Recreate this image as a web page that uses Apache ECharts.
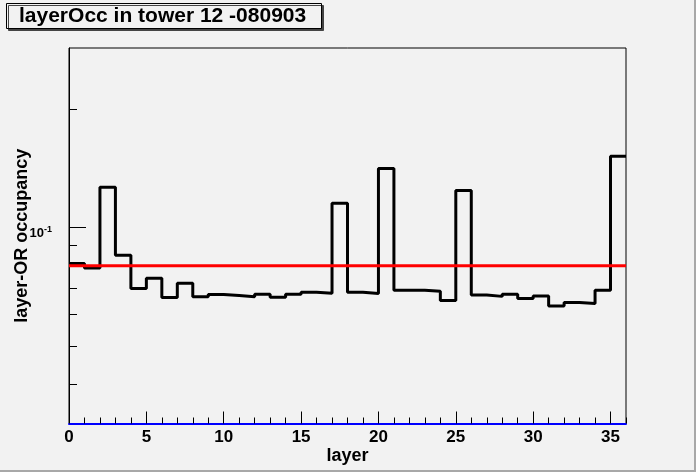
<!DOCTYPE html>
<html>
<head>
<meta charset="utf-8">
<script src="https://cdn.jsdelivr.net/npm/echarts@6/dist/echarts.min.js"></script>
<style>
  html, body { margin: 0; padding: 0; background: #f2f2f2; }
  #chart { width: 696px; height: 472px; }
</style>
</head>
<body>
<div id="chart"></div>
<script>
// occupancy per layer (bins 0..35)
var layerOcc = [
    0.0810, 0.0789, 0.1267, 0.0850, 0.0700, 0.0743, 0.0664, 0.0721, 0.0667, 0.0675,
    0.0671, 0.0667, 0.0676, 0.0665, 0.0676, 0.0684, 0.0680, 0.1153, 0.0684, 0.0679,
    0.1414, 0.0692, 0.0692, 0.0688, 0.0652, 0.1243, 0.0673, 0.0668, 0.0676, 0.0660,
    0.0669, 0.0631, 0.0644, 0.0641, 0.0692, 0.1520
];
var refLevel = 0.08;
var xRange = [0, 36];
var yRange = [0.0317, 0.2866];
var xMajorTicks = [0, 5, 10, 15, 20, 25, 30, 35];
var xMinorTicks = [1, 2, 3, 4, 6, 7, 8, 9, 11, 12, 13, 14, 16, 17, 18, 19,
    21, 22, 23, 24, 26, 27, 28, 29, 31, 32, 33, 34, 36];
var yMajorTicks = [0.1];
var yMinorTicks = [0.04, 0.05, 0.06, 0.07, 0.08, 0.09, 0.2];

var font = 'Liberation Sans, Arial, Helvetica, sans-serif';

// step histogram points: left edge of each bin, plus closing right edge
var histData = layerOcc.map(function (v, i) { return [i, v]; });
histData.push([layerOcc.length, layerOcc[layerOcc.length - 1]]);

var myChart = echarts.init(document.getElementById('chart'));
var option = {
    backgroundColor: '#f2f2f2',
    animation: false,
    title: {
        text: 'layerOcc in tower 12 -080903',
        left: 6,
        top: 3,
        padding: [2, 16, 2, 13],
        backgroundColor: '#f2f2f2',
        borderColor: '#000',
        borderWidth: 1,
        shadowColor: '#444',
        shadowBlur: 0,
        shadowOffsetX: 2,
        shadowOffsetY: 2,
        textStyle: {
            fontFamily: font,
            fontSize: 21,
            fontWeight: 'bold',
            color: '#000',
            lineHeight: 22
        }
    },
    graphic: [
        {type: 'rect', right: 0, top: 0, shape: {width: 2, height: 472}, style: {fill: '#a8a8a8'}},
        {type: 'rect', left: 0, bottom: 0, shape: {width: 696, height: 2}, style: {fill: '#a8a8a8'}}
    ],
    grid: {
        left: 69,
        right: 70,
        top: 48,
        bottom: 48.5,
        containLabel: false,
        outerBoundsMode: 'none',
        show: true,
        borderColor: '#000',
        borderWidth: 1,
        backgroundColor: 'transparent'
    },
    xAxis: [
        {
            type: 'value',
            min: xRange[0],
            max: xRange[1],
            position: 'bottom',
            splitLine: {show: false},
            axisLine: {show: true, onZero: false, lineStyle: {color: '#0000ff', width: 2}},
            axisTick: {
                inside: true,
                length: 12,
                customValues: xMajorTicks,
                lineStyle: {color: '#000', width: 1}
            },
            axisLabel: {
                customValues: xMajorTicks,
                margin: 5,
                color: '#000',
                fontFamily: font,
                fontSize: 17,
                fontWeight: 'bold'
            },
            name: 'layer',
            nameLocation: 'middle',
            nameGap: 24,
            nameMoveOverlap: false,
            nameTextStyle: {
                color: '#000',
                fontFamily: font,
                fontSize: 18,
                fontWeight: 'bold'
            }
        },
        {
            type: 'value',
            min: xRange[0],
            max: xRange[1],
            position: 'bottom',
            splitLine: {show: false},
            axisLine: {show: false},
            axisTick: {
                inside: true,
                length: 6,
                customValues: xMinorTicks,
                lineStyle: {color: '#000', width: 1}
            },
            axisLabel: {show: false}
        }
    ],
    yAxis: [
        {
            type: 'log',
            logBase: 10,
            min: yRange[0],
            max: yRange[1],
            position: 'left',
            splitLine: {show: false},
            minorTick: {show: false},
            axisLine: {show: true, lineStyle: {color: '#000', width: 1}},
            axisTick: {
                inside: true,
                length: 17,
                customValues: yMajorTicks,
                lineStyle: {color: '#000', width: 1}
            },
            axisLabel: {
                customValues: yMajorTicks,
                margin: 17,
                padding: [9, 0, 0, 0],
                formatter: function () { return '{b|10}{s|-1}'; },
                rich: {
                    b: {fontFamily: font, fontSize: 13, fontWeight: 'bold', color: '#000', lineHeight: 15, verticalAlign: 'bottom'},
                    s: {fontFamily: font, fontSize: 9, fontWeight: 'bold', color: '#000', lineHeight: 9, verticalAlign: 'top'}
                }
            },
            name: 'layer-OR occupancy',
            nameLocation: 'middle',
            nameRotate: 90,
            nameGap: 38,
            nameMoveOverlap: false,
            nameTextStyle: {
                color: '#000',
                fontFamily: font,
                fontSize: 18,
                fontWeight: 'bold'
            }
        },
        {
            type: 'log',
            logBase: 10,
            min: yRange[0],
            max: yRange[1],
            position: 'left',
            splitLine: {show: false},
            minorTick: {show: false},
            axisLine: {show: false},
            axisTick: {
                inside: true,
                length: 8,
                customValues: yMinorTicks,
                lineStyle: {color: '#000', width: 1}
            },
            axisLabel: {show: false}
        }
    ],
    series: [
        {
            name: 'layerOcc',
            type: 'line',
            step: 'end',
            xAxisIndex: 0,
            yAxisIndex: 0,
            symbol: 'none',
            lineStyle: {color: '#000', width: 3},
            data: histData,
            z: 3
        },
        {
            name: 'reference',
            type: 'line',
            xAxisIndex: 0,
            yAxisIndex: 0,
            symbol: 'none',
            lineStyle: {color: '#ff0000', width: 3},
            data: [[xRange[0], refLevel], [xRange[1], refLevel]],
            z: 4
        }
    ]
};
myChart.setOption(option);
</script>
</body>
</html>
